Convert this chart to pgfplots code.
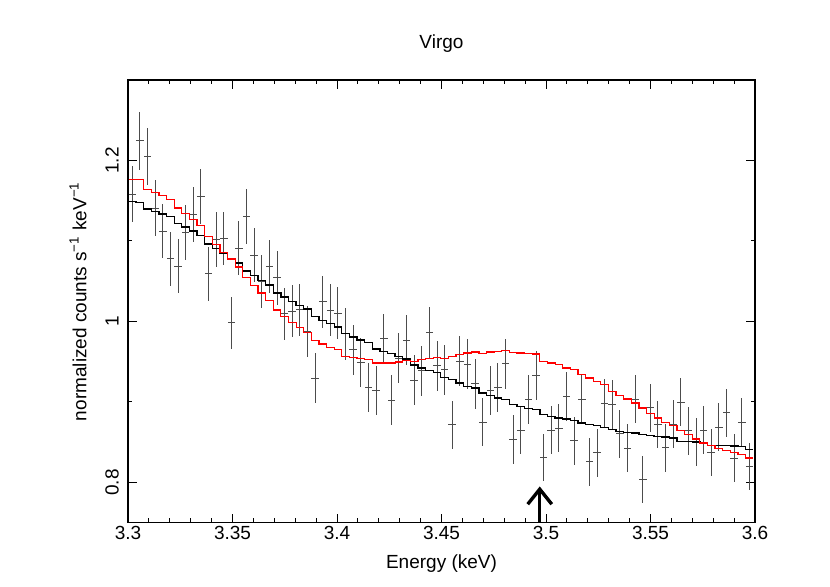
\documentclass[border=0pt]{standalone}
\usepackage{fontspec}
\setmainfont{Liberation Sans}
\usepackage{pgfplots}
\pgfplotsset{compat=1.18}
\usepackage{pgfplotstable}
\usetikzlibrary{arrows.meta}

\pgfplotstableread{
e y err bk rd
3.30024 1.1583 0.0346 1.1491 1.1764
3.30388 1.2245 0.0360 1.1478 1.1760
3.30753 1.2046 0.0352 1.1396 1.1636
3.31117 1.1409 0.0346 1.1366 1.1602
3.31482 1.1123 0.0339 1.1334 1.1561
3.31846 1.0779 0.0335 1.1304 1.1512
3.32211 1.0688 0.0333 1.1214 1.1409
3.32575 1.1102 0.0339 1.1173 1.1338
3.32940 1.1334 0.0342 1.1123 1.1263
3.33304 1.1549 0.0344 1.1068 1.1189
3.33669 1.0593 0.0335 1.0961 1.1056
3.34033 1.1019 0.0340 1.0903 1.0961
3.34398 1.1031 0.0335 1.0845 1.0857
3.34762 0.9984 0.0320 1.0783 1.0775
3.35127 1.0912 0.0335 1.0725 1.0676
3.35491 1.1301 0.0344 1.0626 1.0547
3.35856 1.0825 0.0338 1.0568 1.0443
3.36220 1.0493 0.0329 1.0506 1.0353
3.36585 1.0683 0.0331 1.0452 1.0257
3.36949 1.0543 0.0333 1.0353 1.0142
3.37314 1.0096 0.0325 1.0303 1.0062
3.37678 1.0129 0.0325 1.0248 0.9988
3.38043 1.0145 0.0325 1.0195 0.9925
3.38407 0.9876 0.0320 1.0154 0.9863
3.38772 0.9297 0.0312 1.0062 0.9760
3.39136 1.0245 0.0323 1.0012 0.9719
3.39501 1.0142 0.0327 0.9971 0.9677
3.39865 1.0104 0.0327 0.9930 0.9648
3.40230 0.9847 0.0320 0.9847 0.9565
3.40594 0.9648 0.0310 0.9806 0.9549
3.40959 0.9491 0.0300 0.9769 0.9537
3.41323 0.9185 0.0305 0.9739 0.9524
3.41688 0.9139 0.0305 0.9657 0.9483
3.42052 0.9789 0.0308 0.9627 0.9483
3.42417 0.9024 0.0305 0.9599 0.9483
3.42781 0.9545 0.0310 0.9565 0.9496
3.43146 0.9769 0.0310 0.9533 0.9512
3.43510 0.9272 0.0310 0.9458 0.9503
3.43875 0.9388 0.0310 0.9421 0.9524
3.44239 0.9860 0.0317 0.9391 0.9537
3.44604 0.9450 0.0310 0.9363 0.9553
3.44968 0.9400 0.0310 0.9304 0.9543
3.45333 0.8717 0.0300 0.9276 0.9565
3.45697 0.9506 0.0310 0.9235 0.9586
3.46062 0.9471 0.0310 0.9193 0.9607
3.46426 0.9226 0.0308 0.9173 0.9621
3.46791 0.8750 0.0300 0.9111 0.9605
3.47155 0.9137 0.0305 0.9077 0.9620
3.47520 0.9185 0.0305 0.9048 0.9630
3.47884 0.9475 0.0310 0.9027 0.9639
3.48249 0.8534 0.0300 0.8965 0.9617
3.48613 0.8649 0.0300 0.8944 0.9609
3.48978 0.9027 0.0305 0.8919 0.9602
3.49342 0.9328 0.0308 0.8909 0.9596
3.49707 0.8311 0.0295 0.8841 0.9502
3.50071 0.8650 0.0298 0.8820 0.9483
3.50436 0.8671 0.0298 0.8800 0.9462
3.50800 0.9067 0.0300 0.8788 0.9421
3.51165 0.8518 0.0298 0.8770 0.9400
3.51529 0.9031 0.0300 0.8738 0.9338
3.51894 0.8257 0.0295 0.8717 0.9297
3.52258 0.8366 0.0295 0.8704 0.9255
3.52623 0.8985 0.0300 0.8683 0.9214
3.52987 0.8969 0.0300 0.8655 0.9130
3.53352 0.8605 0.0298 0.8634 0.9077
3.53716 0.8425 0.0296 0.8621 0.9036
3.54081 0.9034 0.0300 0.8614 0.8986
3.54445 0.8037 0.0292 0.8593 0.8924
3.54810 0.8928 0.0300 0.8580 0.8853
3.55174 0.8720 0.0298 0.8571 0.8800
3.55539 0.8431 0.0296 0.8564 0.8745
3.55903 0.8725 0.0298 0.8552 0.8704
3.56268 0.8999 0.0300 0.8509 0.8646
3.56632 0.8642 0.0298 0.8506 0.8593
3.56997 0.8502 0.0296 0.8502 0.8539
3.57361 0.8651 0.0298 0.8489 0.8489
3.57726 0.8369 0.0295 0.8460 0.8460
3.58090 0.8688 0.0298 0.8460 0.8419
3.58455 0.8866 0.0300 0.8456 0.8398
3.58819 0.8303 0.0295 0.8452 0.8373
3.59184 0.8745 0.0298 0.8447 0.8348
3.59548 0.8195 0.0292 0.8406 0.8303
3.59913 nan 0 0.8406 0.8303
}\spec

\begin{document}
\fontsize{9.5}{11}\selectfont
\begin{tikzpicture}
\useasboundingbox (0,0) rectangle (415pt,293.5pt);
\begin{axis}[
  at={(64pt,32.15pt)}, anchor=south west,
  scale only axis, width=313.5pt, height=221.35pt,
  xmin=3.3, xmax=3.6, ymin=0.75, ymax=1.3,
  xtick={3.3,3.35,3.4,3.45,3.5,3.55,3.6},
  xticklabels={3.3,3.35,3.4,3.45,3.5,3.55,3.6},
  minor x tick num=4,
  ytick={0.8,1,1.2},
  yticklabels={0.8,1,1.2},
  minor y tick num=1,
  xtick pos=both, ytick pos=both,
  tick align=inside,
  major tick length=4.3pt, minor tick length=2.2pt,
  tick style={black, line width=0.5pt},
  axis line style={black, line width=0.6pt},
  xticklabel style={anchor=center, yshift=-5pt},
  yticklabel style={rotate=90, anchor=center, yshift=8pt},
  title={Virgo},
  title style={at={(axis description cs:0.5,1)}, anchor=center, yshift=12pt},
  xlabel={Energy (keV)},
  xlabel style={at={(axis description cs:0.5,0)}, anchor=center, yshift=-20.5pt},
  ylabel={normalized counts s\textsuperscript{−1} keV\textsuperscript{−1}},
  ylabel style={at={(axis description cs:0,0.5)}, anchor=center, yshift=25pt},
]
\addplot[draw=none, mark=none, forget plot,
  error bars/.cd, y dir=both, y explicit, x dir=both, x fixed=0.0018225,
  error mark=none, error bar style={black!70, line width=0.5pt}]
  table[x expr=\thisrow{e}+0.0018225, y=y, y error=err]{\spec};
\addplot[black, line width=0.65pt, const plot mark left, mark=none] table[x=e, y=bk]{\spec};
\addplot[red, line width=0.6pt, const plot mark left, mark=none] table[x=e, y=rd]{\spec};
\draw[line width=1.7pt, -{Straight Barb[length=7.5pt, width=12pt]}] (axis cs:3.497,0.75) -- (axis cs:3.497,0.795);
\end{axis}
\end{tikzpicture}
\end{document}
